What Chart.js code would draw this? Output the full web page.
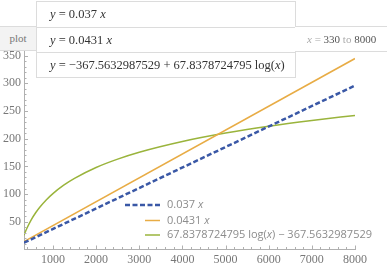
<!DOCTYPE html>
<html>
<head>
<meta charset="utf-8">
<script src="https://cdn.jsdelivr.net/npm/chart.js@4.4.0/dist/chart.umd.min.js"></script>
<style>
body { margin: 0; background: #fff; }
#wrap { position: relative; width: 387px; height: 269px; overflow: hidden; }
#wrap canvas { position: absolute; left: 0; top: 0; }
.box { position: absolute; background: #fff; border: 1px solid #dcdcdc; box-sizing: border-box; white-space: nowrap; }
.serif { font-family: "Liberation Serif", "DejaVu Serif", serif; }
.row { position: absolute; left: 0; right: 0; box-sizing: border-box; padding-left: 13px; font-size: 12.5px; color: #333; }
.row + .row { border-top: 1px solid #dcdcdc; }
</style>
</head>
<body>
<div id="wrap">
	<canvas id="canvas" width="387" height="269"></canvas>
	<div class="box serif" id="plotCell" style="left:-1px;top:26px;width:38px;height:25px;background:#f3f3f3;color:#777;font-size:11px;text-align:center;line-height:23px;">plot</div>
	<div class="box serif" id="funcs" style="left:36px;top:1px;width:260px;height:77px;"></div>
	<div class="box serif" id="range" style="left:295px;top:26px;width:100px;height:26px;border-left:none;font-size:11px;color:#aaa;line-height:24px;padding-left:12px;"></div>
</div>
<script>
// values
var xRange = [330, 8000];
var slopes = [0.037, 0.0431];
var logA = -367.5632987529;
var logB = 67.8378724795;

var blueX = [330, 8000];
var blueY = [12.2, 296.0];
var orangeX = [330, 8000];
var orangeY = [14.2, 344.8];
var greenX = [330, 350, 400, 500, 600, 700, 850, 1000, 1250, 1500, 2000, 2500, 3000, 4000, 5000, 6000, 7000, 8000];
var greenY = [25.8, 29.8, 38.9, 54.0, 66.4, 76.8, 90.0, 101.0, 116.2, 128.5, 148.1, 163.2, 175.6, 195.0, 210.2, 222.6, 233.0, 242.1];

var seriesLabels = ['0.037 x', '0.0431 x', '67.8378724795 log(x) \u2212 367.5632987529'];
var xTicks = [1000, 2000, 3000, 4000, 5000, 6000, 7000, 8000];
var yTicks = [50, 100, 150, 200, 250, 300, 350];

function pairs(xs, ys) {
	return xs.map(function(x, i) { return {x: x, y: ys[i]}; });
}

// header table
var funcRows = [
	'<i>y</i> = ' + slopes[0] + ' <i>x</i>',
	'<i>y</i> = ' + slopes[1] + ' <i>x</i>',
	'<i>y</i> = \u2212' + Math.abs(logA) + ' + ' + logB + ' log(<i>x</i>)'
];
var rowHeights = [25, 25, 25];
var rowTop = 0;
document.getElementById('funcs').innerHTML = funcRows.map(function(r, i) {
	var h = rowHeights[i];
	var s = '<div class="row" style="top:' + rowTop + 'px;height:' + h + 'px;line-height:' + h + 'px;">' + r + '</div>';
	rowTop += h;
	return s;
}).join('');
document.getElementById('range').innerHTML = '<i>x</i> = <span style="color:#555">' + xRange[0] + '</span> to <span style="color:#555">' + xRange[1] + '</span>';

var axisMarks = {
	id: 'axisMarks',
	afterDraw: function(chart) {
		var ctx = chart.ctx;
		var xs = chart.scales.x, ys = chart.scales.y;
		var y0 = ys.bottom, x0 = xs.left;
		ctx.save();
		ctx.strokeStyle = '#b0b0b0';
		ctx.lineWidth = 1;
		ctx.beginPath();
		for (var v = 400; v <= xRange[1]; v += 200) {
			var px = Math.round(xs.getPixelForValue(v)) + 0.5;
			var len = (v % 1000 === 0) ? 4 : 2.5;
			ctx.moveTo(px, y0);
			ctx.lineTo(px, y0 - len);
		}
		for (var w = 10; w <= ys.max; w += 10) {
			var py = Math.round(ys.getPixelForValue(w)) + 0.5;
			var l2 = (w % 50 === 0) ? 4 : 2.5;
			ctx.moveTo(x0, py);
			ctx.lineTo(x0 + l2, py);
		}
		ctx.stroke();

		// legend
		var rows = [205, 220.5, 235];
		var sampleStart = [125, 145, 145];
		chart.data.datasets.forEach(function(ds, i) {
			var y = rows[i];
			ctx.beginPath();
			ctx.setLineDash(ds.borderDash || []);
			ctx.strokeStyle = ds.borderColor;
			ctx.lineWidth = ds.borderWidth;
			ctx.moveTo(sampleStart[i], y);
			ctx.lineTo(160, y);
			ctx.stroke();
			ctx.setLineDash([]);
			var tx = 167;
			ctx.fillStyle = '#8c8c8c';
			ctx.textBaseline = 'middle';
			ds.label.split('').forEach(function(ch) {
				ctx.font = (ch === 'x' ? 'italic ' : '') + '11px "Open Sans", "Liberation Sans", sans-serif';
				ctx.fillText(ch, tx, y);
				tx += ctx.measureText(ch).width;
			});
		});
		ctx.restore();
	}
};

var ctx = document.getElementById('canvas').getContext('2d');
var chart = new Chart(ctx, {
	type: 'scatter',
	data: {
		datasets: [{
			label: seriesLabels[0],
			data: pairs(blueX, blueY),
			showLine: true,
			borderColor: '#3a58a6',
			borderWidth: 2.5,
			borderDash: [5, 2.5],
			pointRadius: 0
		}, {
			label: seriesLabels[1],
			data: pairs(orangeX, orangeY),
			showLine: true,
			borderColor: '#e8ac45',
			borderWidth: 1.5,
			pointRadius: 0
		}, {
			label: seriesLabels[2],
			data: pairs(greenX, greenY),
			showLine: true,
			borderColor: '#9ab43c',
			borderWidth: 1.5,
			cubicInterpolationMode: 'monotone',
			pointRadius: 0
		}]
	},
	options: {
		responsive: false,
		animation: false,
		layout: { padding: { top: 49, right: 32, left: 0, bottom: 0 } },
		plugins: { legend: { display: false }, tooltip: { enabled: false } },
		scales: {
			x: {
				type: 'linear',
				min: xRange[0],
				max: xRange[1],
				afterBuildTicks: function(scale) {
					scale.ticks = xTicks.map(function(v) { return {value: v}; });
				},
				afterFit: function(scale) { scale.height = 19.5; },
				grid: { display: false, drawTicks: false },
				border: { display: true, color: '#b0b0b0', width: 1 },
				ticks: {
					padding: 3,
					color: '#777',
					maxRotation: 0,
					callback: function(v) { return String(v); },
					font: { family: '"Liberation Serif", "DejaVu Serif", serif', size: 12 }
				}
			},
			y: {
				min: 0,
				max: 362,
				afterBuildTicks: function(scale) {
					scale.ticks = yTicks.map(function(v) { return {value: v}; });
				},
				afterFit: function(scale) { scale.width = 24; },
				grid: { display: false, drawTicks: false },
				border: { display: true, color: '#b0b0b0', width: 1 },
				ticks: {
					padding: 3,
					color: '#777',
					callback: function(v) { return String(v); },
					font: { family: '"Liberation Serif", "DejaVu Serif", serif', size: 12 }
				}
			}
		}
	},
	plugins: [axisMarks]
});
</script>
</body>
</html>
